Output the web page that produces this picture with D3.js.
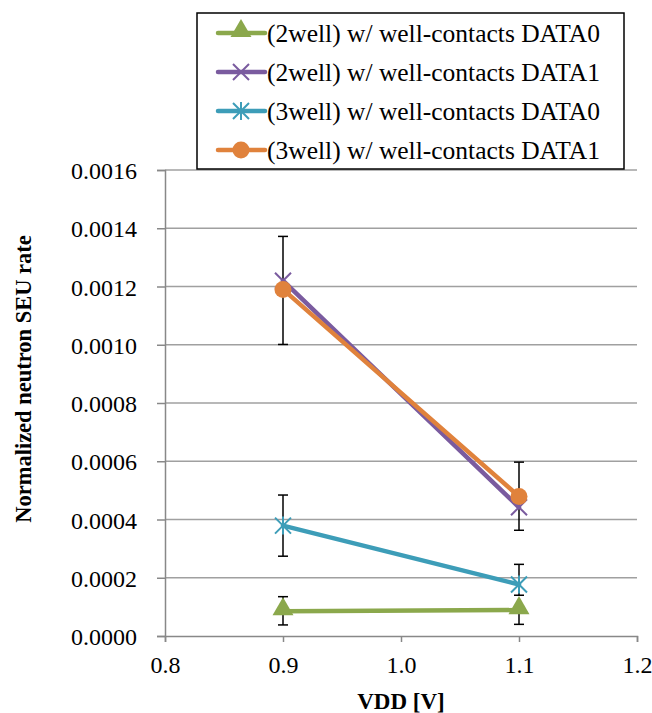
<!DOCTYPE html>
<html>
<head>
<meta charset="utf-8">
<script src="https://cdn.jsdelivr.net/npm/d3@7"></script>
<style>
  body { margin: 0; background: #fff; }
  text { font-family: "Liberation Serif", "Times New Roman", serif; fill: #000; }
</style>
</head>
<body>
<div id="chart"></div>
<script>
// data
var vdd = [0.9, 1.1];
var seriesNames = ["(2well) w/ well-contacts DATA0", "(2well) w/ well-contacts DATA1",
                   "(3well) w/ well-contacts DATA0", "(3well) w/ well-contacts DATA1"];
var green = [0.000085, 0.000089];
var purple = [0.001220, 0.000442];
var teal = [0.000379, 0.000177];
var orange = [0.001190, 0.000479];
// error bars (low / high), only drawn for some series
var greenErrLow = [0.000038, 0.000040], greenErrHigh = [0.000135, 0.000103];
var tealErrLow = [0.000274, 0.000140], tealErrHigh = [0.000484, 0.000246];
var orangeErrLow = [0.001001, 0.000363], orangeErrHigh = [0.001372, 0.000597];
var xTicks = [0.8, 0.9, 1.0, 1.1, 1.2];
var yTicks = [0, 0.0002, 0.0004, 0.0006, 0.0008, 0.0010, 0.0012, 0.0014, 0.0016];

var width = 652, height = 713;
var margin = {top: 170, right: 15, bottom: 77, left: 165};

var svg = d3.select("#chart").append("svg")
    .attr("width", width)
    .attr("height", height);

var x = d3.scaleLinear().domain([0.8, 1.2]).range([margin.left, width - margin.right]);
var y = d3.scaleLinear().domain([0, 0.0016]).range([height - margin.bottom, margin.top]);

// gridlines
svg.append("g").selectAll("line")
    .data(yTicks.slice(1))
  .enter().append("line")
    .attr("x1", x(0.8)).attr("x2", x(1.2))
    .attr("y1", function(d){ return y(d); })
    .attr("y2", function(d){ return y(d); })
    .style("stroke", "#a0a0a0")
    .style("stroke-width", 1.5);

// axes
var yAxis = svg.append("g")
    .attr("transform", "translate(" + x(0.8) + ",0)")
    .call(d3.axisLeft(y).tickValues(yTicks).tickFormat(d3.format(".4f")).tickSize(8));
var xAxis = svg.append("g")
    .attr("transform", "translate(0," + y(0) + ")")
    .call(d3.axisBottom(x).tickValues(xTicks).tickFormat(d3.format(".1f")).tickSize(6).tickPadding(14));

[xAxis, yAxis].forEach(function(ax){
  ax.select(".domain").style("stroke", "#888").style("stroke-width", 1.5);
  ax.selectAll(".tick line").style("stroke", "#888").style("stroke-width", 1.5);
  ax.selectAll(".tick text")
    .style("font-family", "'Liberation Serif', serif")
    .style("font-size", "24px")
    .style("fill", "#000");
});
yAxis.selectAll(".tick text").attr("dy", "0.36em").attr("x", -28);

// axis titles
svg.append("text")
    .attr("x", x(1.0))
    .attr("y", 709)
    .attr("text-anchor", "middle")
    .style("font-size", "23px")
    .style("font-weight", "bold")
    .text("VDD [V]");
svg.append("text")
    .attr("transform", "translate(31,379) rotate(-90)")
    .attr("text-anchor", "middle")
    .style("font-size", "22.5px")
    .style("font-weight", "bold")
    .text("Normalized neutron SEU rate");

var series = [
  {name: seriesNames[0], values: green, color: "#8ba84c", marker: "triangle"},
  {name: seriesNames[1], values: purple, color: "#7a5b9f", marker: "x"},
  {name: seriesNames[2], values: teal, color: "#3d9db8", marker: "star"},
  {name: seriesNames[3], values: orange, color: "#e0823c", marker: "circle"}
];
var errors = [
  {low: greenErrLow, high: greenErrHigh},
  {low: tealErrLow, high: tealErrHigh},
  {low: orangeErrLow, high: orangeErrHigh}
];

var line = d3.line()
    .x(function(d, i){ return x(vdd[i]); })
    .y(function(d){ return y(d); });

function drawMarker(g, type, color, cx, cy) {
  if (type == "triangle") {
    g.append("path")
      .attr("d", d3.symbol().type(d3.symbolTriangle).size(190)())
      .attr("transform", "translate(" + cx + "," + (cy - 2) + ")")
      .style("fill", color);
  } else if (type == "circle") {
    g.append("circle").attr("cx", cx).attr("cy", cy).attr("r", 8.5).style("fill", color);
  } else if (type == "x") {
    g.append("path")
      .attr("d", "M-8,-8L8,8M-8,8L8,-8")
      .attr("transform", "translate(" + cx + "," + cy + ")")
      .style("stroke", color).style("stroke-width", 2).style("fill", "none");
  } else if (type == "star") {
    g.append("path")
      .attr("d", "M-8,-8L8,8M-8,8L8,-8M0,-9L0,9")
      .attr("transform", "translate(" + cx + "," + cy + ")")
      .style("stroke", color).style("stroke-width", 2).style("fill", "none");
  }
}

var plot = svg.append("g");

// error bars drawn beneath the markers
var errG = plot.append("g");
errors.forEach(function(e){
  vdd.forEach(function(v, i){
    var ex = x(v);
    errG.append("line").attr("x1", ex).attr("x2", ex)
      .attr("y1", y(e.low[i])).attr("y2", y(e.high[i]))
      .style("stroke", "#000").style("stroke-width", 1.5);
    [e.low[i], e.high[i]].forEach(function(d){
      errG.append("line").attr("x1", ex - 5).attr("x2", ex + 5)
        .attr("y1", y(d)).attr("y2", y(d))
        .style("stroke", "#000").style("stroke-width", 1.5);
    });
  });
});

series.forEach(function(s){
  plot.append("path")
    .datum(s.values)
    .attr("d", line)
    .style("fill", "none")
    .style("stroke", s.color)
    .style("stroke-width", 4.5)
    .style("stroke-linecap", "round");
  s.values.forEach(function(d, i){
    drawMarker(plot, s.marker, s.color, x(vdd[i]), y(d));
  });
});

// legend
var legend = svg.append("g");
legend.append("rect")
    .attr("x", 197).attr("y", 13)
    .attr("width", 427).attr("height", 156)
    .style("fill", "#fff")
    .style("stroke", "#000")
    .style("stroke-width", 1.5);
var rowY = [33, 72, 111, 150];
series.forEach(function(s, i){
  var g = legend.append("g");
  g.append("line")
    .attr("x1", 218).attr("x2", 265)
    .attr("y1", rowY[i]).attr("y2", rowY[i])
    .style("stroke", s.color).style("stroke-width", 4.5).style("stroke-linecap", "round");
  drawMarker(g, s.marker, s.color, 241, rowY[i]);
  g.append("text")
    .attr("x", 267)
    .attr("y", rowY[i])
    .attr("dy", "0.34em")
    .style("font-size", "25.5px")
    .text(s.name);
});
</script>
</body>
</html>
